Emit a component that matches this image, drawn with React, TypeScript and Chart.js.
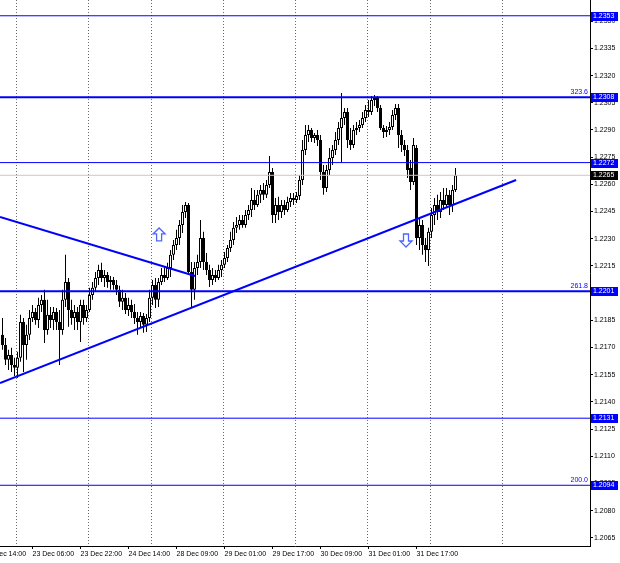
import React, { useEffect, useRef } from "react";
import { Chart, registerables } from "chart.js";

Chart.register(...registerables);

// ---- Data (EURUSD H1 candles) ----
const opens = [
  1.21770, 1.21714, 1.21632, 1.21659, 1.21604, 1.21588, 1.21643, 1.21841, 1.21714, 1.21770,
  1.21863, 1.21896, 1.21852, 1.21935, 1.21963, 1.21797, 1.21880, 1.21852, 1.21896, 1.21841,
  1.21797, 1.21963, 1.22062, 1.21907, 1.21863, 1.21896, 1.21841, 1.21935, 1.21863, 1.21907,
  1.21990, 1.22029, 1.22084, 1.22128, 1.22084, 1.22100, 1.22062, 1.22073, 1.22045, 1.22018,
  1.21952, 1.21974, 1.21907, 1.21935, 1.21896, 1.21863, 1.21841, 1.21874, 1.21825, 1.21863,
  1.21974, 1.22045, 1.21963, 1.22062, 1.22100, 1.22084, 1.22139, 1.22211, 1.22266, 1.22304,
  1.22376, 1.22448, 1.22486, 1.22117, 1.22018, 1.22139, 1.22172, 1.22304, 1.22172, 1.22128,
  1.22073, 1.22100, 1.22084, 1.22128, 1.22156, 1.22194, 1.22249, 1.22293, 1.22360, 1.22376,
  1.22404, 1.22376, 1.22431, 1.22459, 1.22514, 1.22486, 1.22542, 1.22569, 1.22542, 1.22597,
  1.22668, 1.22431, 1.22486, 1.22448, 1.22486, 1.22459, 1.22503, 1.22525, 1.22514, 1.22536,
  1.22624, 1.22790, 1.22872, 1.22900, 1.22856, 1.22872, 1.22845, 1.22668, 1.22580, 1.22679,
  1.22746, 1.22790, 1.22845, 1.22911, 1.22966, 1.22999, 1.22845, 1.22817, 1.22900, 1.22911,
  1.22928, 1.22966, 1.23010, 1.22999, 1.23066, 1.23076, 1.23021, 1.22911, 1.22889, 1.22900,
  1.22917, 1.22983, 1.23021, 1.22872, 1.22817, 1.22790, 1.22690, 1.22613, 1.22801, 1.22304,
  1.22376, 1.22266, 1.22238, 1.22338, 1.22431, 1.22486, 1.22448, 1.22514, 1.22486, 1.22542,
  1.22486, 1.22569,
];
const closes = [
  1.21714, 1.21632, 1.21659, 1.21604, 1.21588, 1.21643, 1.21841, 1.21714, 1.21770, 1.21863,
  1.21896, 1.21852, 1.21935, 1.21963, 1.21797, 1.21880, 1.21852, 1.21896, 1.21841, 1.21797,
  1.21963, 1.22062, 1.21907, 1.21863, 1.21896, 1.21841, 1.21935, 1.21863, 1.21907, 1.21990,
  1.22029, 1.22084, 1.22128, 1.22084, 1.22100, 1.22062, 1.22073, 1.22045, 1.22018, 1.21952,
  1.21974, 1.21907, 1.21935, 1.21896, 1.21863, 1.21841, 1.21874, 1.21825, 1.21863, 1.21974,
  1.22045, 1.21963, 1.22062, 1.22100, 1.22084, 1.22139, 1.22211, 1.22266, 1.22304, 1.22376,
  1.22448, 1.22486, 1.22117, 1.22018, 1.22139, 1.22172, 1.22304, 1.22172, 1.22128, 1.22073,
  1.22100, 1.22084, 1.22128, 1.22156, 1.22194, 1.22249, 1.22293, 1.22360, 1.22376, 1.22404,
  1.22376, 1.22431, 1.22459, 1.22514, 1.22486, 1.22542, 1.22569, 1.22542, 1.22597, 1.22668,
  1.22431, 1.22486, 1.22448, 1.22486, 1.22459, 1.22503, 1.22525, 1.22514, 1.22536, 1.22624,
  1.22790, 1.22872, 1.22900, 1.22856, 1.22872, 1.22845, 1.22668, 1.22580, 1.22679, 1.22746,
  1.22790, 1.22845, 1.22911, 1.22966, 1.22999, 1.22845, 1.22817, 1.22900, 1.22911, 1.22928,
  1.22966, 1.23010, 1.22999, 1.23066, 1.23076, 1.23021, 1.22911, 1.22889, 1.22900, 1.22917,
  1.22983, 1.23021, 1.22872, 1.22817, 1.22790, 1.22679, 1.22613, 1.22817, 1.22304, 1.22376,
  1.22266, 1.22238, 1.22338, 1.22431, 1.22486, 1.22448, 1.22514, 1.22486, 1.22542, 1.22486,
  1.22569, 1.22650,
];
const highs = [
  1.21863, 1.21753, 1.21687, 1.21698, 1.21643, 1.21676, 1.21880, 1.21863, 1.21825, 1.21907,
  1.21935, 1.21918, 1.21974, 1.21990, 1.22018, 1.21963, 1.21924, 1.21924, 1.21918, 1.21907,
  1.22018, 1.22211, 1.22084, 1.21963, 1.21935, 1.21924, 1.21963, 1.21963, 1.21935, 1.22029,
  1.22062, 1.22117, 1.22156, 1.22167, 1.22128, 1.22117, 1.22095, 1.22089, 1.22073, 1.22040,
  1.22018, 1.22001, 1.21974, 1.21963, 1.21940, 1.21896, 1.21896, 1.21891, 1.21885, 1.22018,
  1.22073, 1.22084, 1.22084, 1.22139, 1.22145, 1.22167, 1.22238, 1.22293, 1.22349, 1.22404,
  1.22486, 1.22503, 1.22497, 1.22172, 1.22172, 1.22211, 1.22404, 1.22338, 1.22222, 1.22156,
  1.22139, 1.22128, 1.22156, 1.22183, 1.22227, 1.22266, 1.22338, 1.22393, 1.22420, 1.22431,
  1.22431, 1.22459, 1.22486, 1.22580, 1.22569, 1.22569, 1.22597, 1.22608, 1.22624, 1.22757,
  1.22690, 1.22525, 1.22531, 1.22514, 1.22514, 1.22531, 1.22553, 1.22553, 1.22558, 1.22652,
  1.22845, 1.22928, 1.22928, 1.22911, 1.22883, 1.22900, 1.22872, 1.22707, 1.22707, 1.22801,
  1.22817, 1.22889, 1.22944, 1.23104, 1.23021, 1.23021, 1.22911, 1.22928, 1.22944, 1.22955,
  1.22999, 1.23038, 1.23066, 1.23088, 1.23093, 1.23088, 1.23038, 1.22928, 1.22922, 1.22944,
  1.23010, 1.23043, 1.23043, 1.22900, 1.22845, 1.22817, 1.22735, 1.22856, 1.22817, 1.22415,
  1.22404, 1.22304, 1.22360, 1.22470, 1.22525, 1.22542, 1.22558, 1.22580, 1.22580, 1.22569,
  1.22597, 1.22690,
];
const lows = [
  1.21687, 1.21604, 1.21576, 1.21565, 1.21543, 1.21532, 1.21621, 1.21565, 1.21632, 1.21742,
  1.21841, 1.21825, 1.21808, 1.21896, 1.21725, 1.21770, 1.21808, 1.21797, 1.21797, 1.21604,
  1.21770, 1.21924, 1.21814, 1.21825, 1.21797, 1.21797, 1.21731, 1.21825, 1.21841, 1.21896,
  1.21963, 1.22007, 1.22045, 1.22062, 1.22034, 1.22029, 1.22018, 1.22018, 1.21990, 1.21924,
  1.21907, 1.21885, 1.21874, 1.21863, 1.21830, 1.21770, 1.21808, 1.21781, 1.21786, 1.21841,
  1.21935, 1.21918, 1.21924, 1.22045, 1.22062, 1.22073, 1.22089, 1.22183, 1.22238, 1.22266,
  1.22332, 1.22415, 1.22100, 1.21924, 1.21963, 1.22100, 1.22139, 1.22128, 1.22100, 1.22034,
  1.22045, 1.22062, 1.22073, 1.22089, 1.22139, 1.22172, 1.22227, 1.22266, 1.22332, 1.22349,
  1.22360, 1.22360, 1.22404, 1.22420, 1.22459, 1.22475, 1.22497, 1.22514, 1.22525, 1.22580,
  1.22387, 1.22387, 1.22404, 1.22415, 1.22431, 1.22448, 1.22475, 1.22486, 1.22497, 1.22514,
  1.22597, 1.22762, 1.22834, 1.22834, 1.22828, 1.22812, 1.22624, 1.22542, 1.22558, 1.22652,
  1.22707, 1.22762, 1.22817, 1.22718, 1.22928, 1.22801, 1.22790, 1.22801, 1.22872, 1.22889,
  1.22911, 1.22944, 1.22972, 1.22983, 1.23032, 1.22999, 1.22900, 1.22856, 1.22861, 1.22872,
  1.22900, 1.22955, 1.22801, 1.22779, 1.22757, 1.22635, 1.22569, 1.22597, 1.22266, 1.22238,
  1.22211, 1.22172, 1.22150, 1.22304, 1.22376, 1.22404, 1.22415, 1.22459, 1.22470, 1.22431,
  1.22448, 1.22558,
];

// time axis labels (bar index of each label)
const xTickBars = [-6, 10, 26, 42, 58, 74, 90, 106, 122, 138];
const xTickLabels = [
  "22 Dec 14:00", "23 Dec 06:00", "23 Dec 22:00", "24 Dec 14:00", "28 Dec 09:00",
  "29 Dec 01:00", "29 Dec 17:00", "30 Dec 09:00", "31 Dec 01:00", "31 Dec 17:00",
];
// day separators (between bars)
const dayBreaks = [4.5, 28.5, 49.5, 73.5, 97.5, 121.5, 142.5, 166.5];

const yTicks = [
  1.2065, 1.2080, 1.2095, 1.2110, 1.2125, 1.2140, 1.2155, 1.2170, 1.2185, 1.2200,
  1.2215, 1.2230, 1.2245, 1.2260, 1.2275, 1.2290, 1.2305, 1.2320, 1.2335, 1.2350,
];

const levelPrices = [1.2353, 1.2308, 1.2272, 1.2201, 1.2131, 1.2094];
const levelWidths = [1, 2, 1, 2, 1, 1];
const fibPrices = [1.2308, 1.2201, 1.2094];
const fibLabels = ["323.6", "261.8", "200.0"];
const currentPrice = 1.2265;

const trendDownX = [-0.83, 64.2];
const trendDownY = [1.2242, 1.22094];
const trendUpX = [-0.83, 171.2];
const trendUpY = [1.21504, 1.22624];

const upArrowX = [52.2];
const upArrowY = [1.22321];
const downArrowX = [134.5];
const downArrowY = [1.22293];

// scale ranges
const X_MIN = -0.8333;
const X_MAX = 195.8333;
const Y_MIN = 1.20605;
const Y_MAX = 1.23617;

const FONT = '"Liberation Sans", Arial, sans-serif';
const BLUE = "#0000ff";

const overlayPlugin = {
  id: "mt4overlay",
  beforeDatasetsDraw(chart: any) {
    const { ctx, chartArea } = chart;
    const xs = chart.scales.x;
    ctx.save();
    ctx.strokeStyle = "#6e6e6e";
    ctx.lineWidth = 1;
    ctx.setLineDash([1, 2]);
    dayBreaks.forEach((b) => {
      const px = Math.round(xs.getPixelForValue(b)) + 0.5;
      ctx.beginPath();
      ctx.moveTo(px, chartArea.top);
      ctx.lineTo(px, chartArea.bottom);
      ctx.stroke();
    });
    ctx.restore();
  },
  afterDraw(chart: any) {
    const { ctx, chartArea } = chart;
    const xs = chart.scales.x;
    const ys = chart.scales.y;
    ctx.save();
    ctx.font = `7px ${FONT}`;
    // fib labels
    ctx.fillStyle = BLUE;
    ctx.textAlign = "right";
    ctx.textBaseline = "alphabetic";
    fibPrices.forEach((p, i) => {
      const y = ys.getPixelForValue(p);
      ctx.fillText(fibLabels[i], chartArea.right - 2, y - 3);
    });
    // price boxes on the axis
    const box = (p: number, bg: string) => {
      const y = ys.getPixelForValue(p);
      ctx.fillStyle = bg;
      ctx.fillRect(chartArea.right + 1, Math.round(y) - 4, 27, 9);
      ctx.fillStyle = "#ffffff";
      ctx.textAlign = "left";
      ctx.textBaseline = "middle";
      ctx.fillText(p.toFixed(4), chartArea.right + 3, Math.round(y) + 0.5);
    };
    levelPrices.forEach((p) => box(p, BLUE));
    box(currentPrice, "#000000");
    // arrows
    ctx.strokeStyle = "#4a66ff";
    ctx.fillStyle = "#ffffff";
    ctx.lineWidth = 1.3;
    const arrow = (cx: number, cy: number, dir: number) => {
      ctx.beginPath();
      ctx.moveTo(cx, cy - 7 * dir);
      ctx.lineTo(cx + 6, cy - 1 * dir);
      ctx.lineTo(cx + 2.5, cy - 1 * dir);
      ctx.lineTo(cx + 2.5, cy + 6 * dir);
      ctx.lineTo(cx - 2.5, cy + 6 * dir);
      ctx.lineTo(cx - 2.5, cy - 1 * dir);
      ctx.lineTo(cx - 6, cy - 1 * dir);
      ctx.closePath();
      ctx.fill();
      ctx.stroke();
    };
    upArrowX.forEach((x, i) => arrow(xs.getPixelForValue(x), ys.getPixelForValue(upArrowY[i]), 1));
    downArrowX.forEach((x, i) => arrow(xs.getPixelForValue(x), ys.getPixelForValue(downArrowY[i]), -1));
    ctx.restore();
  },
};

export default function App() {
  const canvasRef = useRef<HTMLCanvasElement | null>(null);

  useEffect(() => {
    if (!canvasRef.current) return;
    const idx = closes.map((_, i) => i);

    const levelSets = levelPrices.map((p, i) => ({
      type: "line" as const,
      data: [
        { x: X_MIN, y: p },
        { x: X_MAX, y: p },
      ],
      borderColor: BLUE,
      borderWidth: levelWidths[i],
      pointRadius: 0,
      order: 0,
    }));

    const chart = new Chart(canvasRef.current, {
      type: "bar",
      data: {
        datasets: [
          ...levelSets,
          {
            type: "line",
            data: [
              { x: X_MIN, y: currentPrice },
              { x: X_MAX, y: currentPrice },
            ],
            borderColor: "#c8c8c8",
            borderWidth: 1,
            pointRadius: 0,
            order: 0,
          },
          {
            type: "line",
            data: trendDownX.map((x, i) => ({ x, y: trendDownY[i] })),
            borderColor: BLUE,
            borderWidth: 2,
            pointRadius: 0,
            order: 0,
          },
          {
            type: "line",
            data: trendUpX.map((x, i) => ({ x, y: trendUpY[i] })),
            borderColor: BLUE,
            borderWidth: 2,
            pointRadius: 0,
            order: 0,
          },
          {
            type: "bar",
            data: idx.map((i) => ({ x: i, y: [opens[i], closes[i]] })),
            backgroundColor: idx.map((i) => (closes[i] >= opens[i] ? "#ffffff" : "#000000")),
            borderColor: "#000000",
            borderWidth: 1,
            borderSkipped: false,
            barThickness: 3,
            grouped: false,
            inflateAmount: 0,
            order: 1,
          } as any,
          {
            type: "bar",
            data: idx.map((i) => ({ x: i, y: [lows[i], highs[i]] })),
            backgroundColor: "#000000",
            borderWidth: 0,
            barThickness: 1,
            grouped: false,
            inflateAmount: 0,
            order: 2,
          } as any,
        ] as any,
      },
      options: {
        responsive: false,
        animation: false,
        devicePixelRatio: 1,
        events: [],
        layout: { padding: 0 },
        plugins: {
          legend: { display: false },
          tooltip: { enabled: false },
          title: { display: false },
        },
        scales: {
          x: {
            type: "linear",
            position: "bottom",
            min: X_MIN,
            max: X_MAX,
            bounds: "data",
            offset: false,
            afterBuildTicks: (s: any) => {
              s.ticks = xTickBars.map((v) => ({ value: v }));
            },
            afterFit: (s: any) => {
              s.height = 17;
              s.paddingLeft = 0;
              s.paddingRight = 0;
            },
            ticks: {
              autoSkip: false,
              maxRotation: 0,
              minRotation: 0,
              align: "start",
              padding: 1,
              color: "#000000",
              font: { family: FONT, size: 7 },
              callback: (_v: any, i: number) => xTickLabels[i],
            },
            grid: {
              display: true,
              drawOnChartArea: false,
              drawTicks: true,
              tickLength: 3,
              color: "#000000",
              offset: false,
            },
            border: { display: true, color: "#000000", width: 1 },
          },
          y: {
            type: "linear",
            position: "right",
            min: Y_MIN,
            max: Y_MAX,
            bounds: "data",
            beginAtZero: false,
            afterBuildTicks: (s: any) => {
              s.ticks = yTicks.map((v) => ({ value: v }));
            },
            afterFit: (s: any) => {
              s.width = 30;
              s.paddingTop = 0;
              s.paddingBottom = 0;
            },
            ticks: {
              padding: 1,
              color: "#000000",
              font: { family: FONT, size: 7 },
              callback: (v: any) => Number(v).toFixed(4),
            },
            grid: {
              display: true,
              drawOnChartArea: false,
              drawTicks: true,
              tickLength: 3,
              color: "#000000",
            },
            border: { display: true, color: "#000000", width: 1 },
          },
        },
      } as any,
      plugins: [overlayPlugin],
    });

    return () => chart.destroy();
  }, []);

  return (
    <div style={{ position: "absolute", left: 0, top: 0, width: 620, height: 563, background: "#ffffff" }}>
      <canvas ref={canvasRef} width={620} height={563} style={{ display: "block" }} />
    </div>
  );
}
